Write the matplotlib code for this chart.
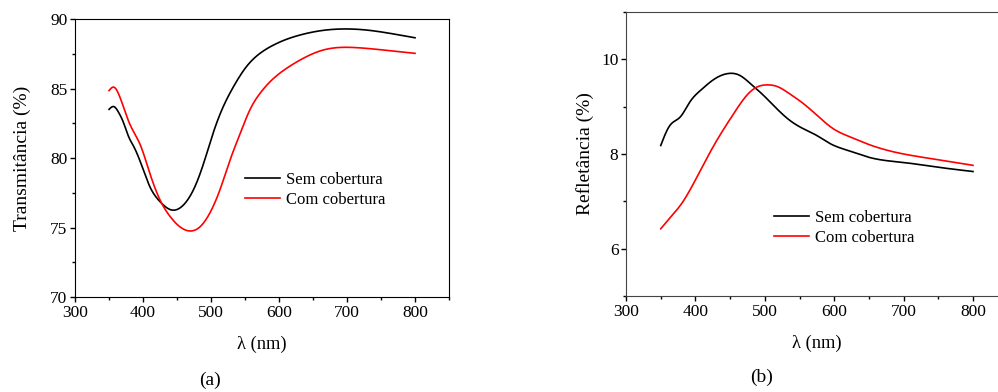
import numpy as np
import matplotlib
matplotlib.use('Agg')
import matplotlib.pyplot as plt
from matplotlib.ticker import MultipleLocator

plt.rcParams['font.family'] = ['Liberation Serif', 'DejaVu Serif']

# (a) transmitancia
lam_t_sem = [350, 357, 365, 370, 380, 385, 396, 410, 425, 442, 459, 474, 489, 503, 518, 533,
             552, 572, 592, 611, 631, 660, 690, 730, 763, 800]
t_sem = [83.5, 83.7, 83.2, 82.7, 81.4, 80.95, 79.73, 77.94, 76.86, 76.26, 76.6, 77.7, 79.6,
         81.78, 83.7, 85.13, 86.57, 87.53, 88.13, 88.54, 88.85, 89.15, 89.28, 89.2, 88.97, 88.65]
lam_t_com = [350, 357, 365, 380, 396, 410, 425, 440, 454, 469, 484, 498, 513, 528, 543, 557,
             572, 592, 611, 631, 665, 714, 763, 800]
t_com = [84.85, 85.1, 84.5, 82.5, 80.94, 78.9, 76.98, 75.78, 75.06, 74.75, 75.06, 76.02, 77.7,
         79.86, 81.78, 83.45, 84.65, 85.73, 86.45, 87.05, 87.77, 87.94, 87.72, 87.53]

# (b) refletancia
lam_r_sem = [350, 363, 378, 392, 407, 426, 447, 464, 479, 498, 517, 536, 556, 575, 594, 623,
             650, 700, 750, 800]
r_sem = [8.18, 8.6, 8.78, 9.1, 9.34, 9.57, 9.70, 9.66, 9.49, 9.24, 8.96, 8.71, 8.53, 8.39,
         8.22, 8.06, 7.93, 7.82, 7.72, 7.63]
lam_r_com = [350, 365, 380, 397, 416, 435, 455, 474, 488, 503, 517, 536, 556, 575, 599, 623,
             650, 700, 750, 800]
r_com = [6.42, 6.68, 6.95, 7.37, 7.9, 8.39, 8.85, 9.24, 9.41, 9.46, 9.43, 9.27, 9.06, 8.82,
         8.53, 8.36, 8.2, 8.0, 7.88, 7.76]

labels = ['Sem cobertura', 'Com cobertura']


def smooth(x, y, n=400):
    # spline cubica natural pelos pontos
    x = np.asarray(x, float)
    y = np.asarray(y, float)
    xs = np.linspace(x[0], x[-1], n)
    h = np.diff(x)
    m = len(x)
    A = np.zeros((m, m))
    b = np.zeros(m)
    A[0, 0] = A[-1, -1] = 1
    for i in range(1, m - 1):
        A[i, i - 1] = h[i - 1]
        A[i, i] = 2 * (h[i - 1] + h[i])
        A[i, i + 1] = h[i]
        b[i] = 6 * ((y[i + 1] - y[i]) / h[i] - (y[i] - y[i - 1]) / h[i - 1])
    M = np.linalg.solve(A, b)
    k = np.clip(np.searchsorted(x, xs) - 1, 0, m - 2)
    t1 = x[k + 1] - xs
    t0 = xs - x[k]
    hk = h[k]
    ys = (M[k] * t1**3 + M[k + 1] * t0**3) / (6 * hk) \
        + (y[k] / hk - M[k] * hk / 6) * t1 + (y[k + 1] / hk - M[k + 1] * hk / 6) * t0
    return xs, ys


fig = plt.figure(figsize=(9.98, 3.92), dpi=100)

ax1 = fig.add_axes([0.0752, 0.2423, 0.3747, 0.7092])
x, y = smooth(lam_t_sem, t_sem)
ax1.plot(x, y, color='black', lw=1.2, label=labels[0])
x, y = smooth(lam_t_com, t_com)
ax1.plot(x, y, color='red', lw=1.2, label=labels[1])
ax1.set_xlim(300, 850)
ax1.set_ylim(70, 90)
ax1.xaxis.set_major_locator(MultipleLocator(100))
ax1.xaxis.set_minor_locator(MultipleLocator(50))
ax1.yaxis.set_major_locator(MultipleLocator(5))
ax1.yaxis.set_minor_locator(MultipleLocator(2.5))
ax1.set_xlabel('λ (nm)', fontsize=13.3, labelpad=11)
ax1.set_ylabel('Transmitância (%)', fontsize=14, labelpad=14)
ax1.legend(loc='center left', bbox_to_anchor=(0.455, 0.385), frameon=False, fontsize=12,
           handlelength=2.1, handletextpad=0.35, labelspacing=0.25, borderpad=0, borderaxespad=0)

ax2 = fig.add_axes([0.6273, 0.2449, 0.3824, 0.7245])
x, y = smooth(lam_r_sem, r_sem)
ax2.plot(x, y, color='black', lw=1.2, label=labels[0])
x, y = smooth(lam_r_com, r_com)
ax2.plot(x, y, color='red', lw=1.2, label=labels[1])
ax2.set_xlim(300, 850)
ax2.set_ylim(5, 11)
ax2.xaxis.set_major_locator(MultipleLocator(100))
ax2.xaxis.set_minor_locator(MultipleLocator(50))
ax2.yaxis.set_major_locator(MultipleLocator(2))
ax2.yaxis.set_minor_locator(MultipleLocator(1))
ax2.set_xlabel('λ (nm)', fontsize=13.3, labelpad=11)
ax2.set_ylabel('Refletância (%)', fontsize=14, labelpad=5)
ax2.legend(loc='center left', bbox_to_anchor=(0.388, 0.24), frameon=False, fontsize=12,
           handlelength=2.1, handletextpad=0.35, labelspacing=0.25, borderpad=0, borderaxespad=0)
for s in ax2.spines.values():
    s.set_color('#444444')

for ax in (ax1, ax2):
    ax.tick_params(which='major', direction='out', length=3.5, width=1, labelsize=12.5, pad=2)
    ax.tick_params(which='minor', direction='out', length=2, width=1)

fig.text(0.2104, 0.03, '(a)', fontsize=14, ha='center', va='center')
fig.text(0.7635, 0.038, '(b)', fontsize=14, ha='center', va='center')

fig.savefig('out.png', dpi=100)
